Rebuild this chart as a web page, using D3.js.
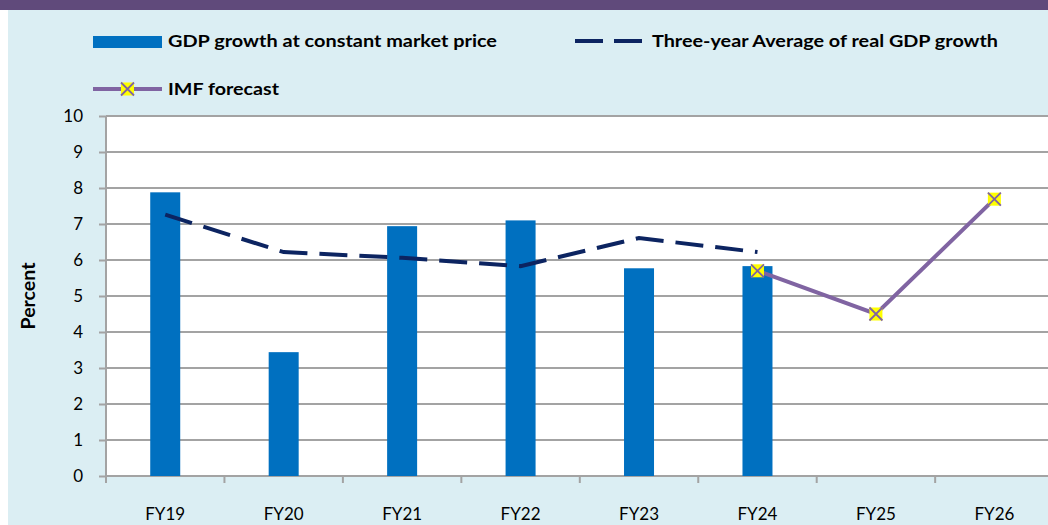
<!DOCTYPE html>
<html>
<head>
<meta charset="utf-8">
<script src="https://cdn.jsdelivr.net/npm/d3@7"></script>
<style>
body { margin: 0; background: #fff; }
svg { display: block; font-family: Lato, "Open Sans", sans-serif; }
</style>
</head>
<body>
<script>
// chart data
var categories = ["FY19", "FY20", "FY21", "FY22", "FY23", "FY24", "FY25", "FY26"];
var gdpGrowth = [7.88, 3.44, 6.94, 7.10, 5.77, 5.83, null, null];
var threeYearAvg = [7.26, 6.22, 6.06, 5.83, 6.61, 6.22, null, null];
var imfForecast = [null, null, null, null, null, 5.70, 4.50, 7.69];
var yTicks = [0, 1, 2, 3, 4, 5, 6, 7, 8, 9, 10];
var seriesNames = ["GDP growth at constant market price", "Three-year Average of real GDP growth", "IMF forecast"];

var width = 1048, height = 525;

var svg = d3.select("body").append("svg")
    .attr("width", width)
    .attr("height", height);

// backgrounds
svg.append("rect").attr("x", 0).attr("y", 0).attr("width", width).attr("height", height).attr("fill", "#fff");
svg.append("rect").attr("x", 8).attr("y", 10).attr("width", width - 8).attr("height", height - 10).attr("fill", "#DBEEF3");
svg.append("rect").attr("x", 0).attr("y", 0).attr("width", width).attr("height", 10).attr("fill", "#604A7B");

// scales
var plotLeft = 106, plotTop = 116, plotBottom = 476;
var x = d3.scaleBand()
    .domain(categories)
    .range([plotLeft, plotLeft + 8 * 118.45])
    .padding(0);
var y = d3.scaleLinear()
    .domain([0, 10])
    .range([plotBottom, plotTop]);

// plot area
svg.append("rect")
    .attr("x", plotLeft).attr("y", plotTop)
    .attr("width", x.range()[1] - plotLeft)
    .attr("height", plotBottom - plotTop)
    .attr("fill", "#fff");

// gridlines
svg.selectAll(".grid")
    .data(yTicks)
    .enter()
    .append("line")
    .attr("class", "grid")
    .attr("x1", plotLeft).attr("x2", x.range()[1])
    .attr("y1", function(d){ return y(d); })
    .attr("y2", function(d){ return y(d); })
    .attr("stroke", "#A3A3A3")
    .attr("stroke-width", 2);

// y axis
var yAxis = svg.append("g")
    .attr("transform", "translate(" + plotLeft + ",0)")
    .call(d3.axisLeft(y).tickValues(yTicks).tickSize(7).tickPadding(16));
yAxis.select(".domain").remove();
yAxis.selectAll(".tick line").attr("stroke", "#A3A3A3").attr("stroke-width", 2);
yAxis.selectAll("text").attr("font-size", 17).attr("fill", "#000").attr("font-family", "Lato, sans-serif");
svg.append("line")
    .attr("x1", plotLeft).attr("x2", plotLeft)
    .attr("y1", plotTop).attr("y2", plotBottom + 7)
    .attr("stroke", "#A3A3A3").attr("stroke-width", 2);

// x axis
var xAxis = svg.append("g")
    .attr("transform", "translate(0," + plotBottom + ")")
    .call(d3.axisBottom(x).tickSize(0).tickPadding(32));
xAxis.select(".domain").remove();
xAxis.selectAll("text").attr("font-size", 17).attr("fill", "#000").attr("font-family", "Lato, sans-serif");
svg.selectAll(".xtick")
    .data(categories.slice(1))
    .enter()
    .append("line")
    .attr("class", "xtick")
    .attr("x1", function(d){ return x(d); })
    .attr("x2", function(d){ return x(d); })
    .attr("y1", plotBottom).attr("y2", plotBottom + 7)
    .attr("stroke", "#A3A3A3").attr("stroke-width", 2);

// y title
svg.append("text")
    .attr("transform", "translate(35,296) rotate(-90)")
    .attr("text-anchor", "middle")
    .attr("font-size", 18)
    .attr("font-weight", "bold")
    .attr("textLength", 67)
    .attr("lengthAdjust", "spacingAndGlyphs")
    .text("Percent");

// bars
var barW = 30;
svg.selectAll(".bar")
    .data(categories.map(function(c, i){ return {c: c, v: gdpGrowth[i]}; }).filter(function(d){ return d.v != null; }))
    .enter()
    .append("rect")
    .attr("class", "bar")
    .attr("x", function(d){ return x(d.c) + x.bandwidth() / 2 - barW / 2; })
    .attr("y", function(d){ return y(d.v); })
    .attr("width", barW)
    .attr("height", function(d){ return y(0) - y(d.v); })
    .attr("fill", "#0070C0");

var cx = function(d){ return x(d.c) + x.bandwidth() / 2; };

// three-year average (dashed)
var avgData = categories.map(function(c, i){ return {c: c, v: threeYearAvg[i]}; }).filter(function(d){ return d.v != null; });
svg.append("path")
    .datum(avgData)
    .attr("d", d3.line().x(cx).y(function(d){ return y(d.v); }))
    .attr("fill", "none")
    .attr("stroke", "#0C2461")
    .attr("stroke-width", 4)
    .attr("stroke-dasharray", "28,12");

// IMF forecast
var imfData = categories.map(function(c, i){ return {c: c, v: imfForecast[i]}; }).filter(function(d){ return d.v != null; });
svg.append("path")
    .datum(imfData)
    .attr("d", d3.line().x(cx).y(function(d){ return y(d.v); }))
    .attr("fill", "none")
    .attr("stroke", "#8064A2")
    .attr("stroke-width", 4);

function drawMarker(g, px, py){
    var s = 6.5;
    g.append("rect").attr("x", px - s).attr("y", py - s).attr("width", 2 * s).attr("height", 2 * s).attr("fill", "#FFFF00");
    g.append("path")
        .attr("d", "M" + (px - s) + "," + (py - s) + "L" + (px + s) + "," + (py + s) + "M" + (px + s) + "," + (py - s) + "L" + (px - s) + "," + (py + s))
        .attr("stroke", "#8064A2").attr("stroke-width", 1.8).attr("fill", "none");
}
imfData.forEach(function(d){ drawMarker(svg, cx(d), y(d.v)); });

// legend
var legend = svg.append("g").attr("font-size", 17).attr("font-weight", "bold");
legend.append("rect").attr("x", 93).attr("y", 36).attr("width", 69).attr("height", 12).attr("fill", "#0070C0");
legend.append("text").attr("x", 168).attr("y", 47)
    .attr("textLength", 329).attr("lengthAdjust", "spacingAndGlyphs").text(seriesNames[0]);
legend.append("line").attr("x1", 575).attr("x2", 642).attr("y1", 41).attr("y2", 41)
    .attr("stroke", "#0C2461").attr("stroke-width", 4).attr("stroke-dasharray", "28,11");
legend.append("text").attr("x", 652).attr("y", 47)
    .attr("textLength", 346).attr("lengthAdjust", "spacingAndGlyphs").text(seriesNames[1]);
legend.append("line").attr("x1", 93).attr("x2", 162).attr("y1", 89).attr("y2", 89)
    .attr("stroke", "#8064A2").attr("stroke-width", 4);
drawMarker(legend, 127.5, 89);
legend.append("text").attr("x", 168).attr("y", 95)
    .attr("textLength", 111).attr("lengthAdjust", "spacingAndGlyphs").text(seriesNames[2]);
</script>
</body>
</html>
